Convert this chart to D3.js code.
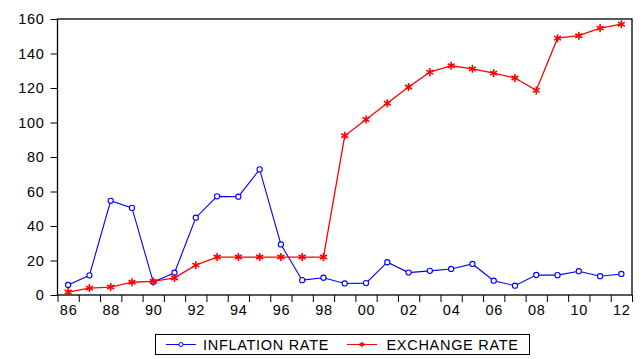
<!DOCTYPE html>
<html>
<head>
<meta charset="utf-8">
<script src="https://cdn.jsdelivr.net/npm/d3@7"></script>
<style>
  body { margin: 0; background: #fff; }
  text { font-family: "Liberation Sans", Arial, sans-serif; }
</style>
</head>
<body>
<div id="chart"></div>
<script>
var years = d3.range(1986, 2013);
var inflation = [5.8, 11.4, 54.6, 50.5, 7.5, 12.9, 44.8, 57.2, 57.0, 72.8, 29.3, 8.6, 10.0, 6.7, 6.9, 19.0, 13.0, 14.0, 15.1, 18.0, 8.3, 5.4, 11.6, 11.5, 13.8, 10.9, 12.2];
var exchange = [1.7, 4.0, 4.6, 7.4, 7.9, 9.9, 17.3, 22.0, 22.0, 22.0, 22.0, 22.0, 22.0, 92.3, 101.7, 111.2, 120.6, 129.2, 132.9, 131.1, 128.6, 125.8, 118.6, 148.9, 150.3, 154.7, 157.0];
var yTicks = [0, 20, 40, 60, 80, 100, 120, 140, 160];
var seriesNames = ["INFLATION RATE", "EXCHANGE RATE"];

var size = {width: 644, height: 359, left: 57.5, right: 632, top: 19, bottom: 295};
var fontSize = "14.5px", spacing = "0.7px";

var svg = d3.select("#chart").append("svg")
    .attr("width", size.width)
    .attr("height", size.height);

var x = d3.scaleLinear()
    .domain([years[0] - 0.5, years[years.length - 1] + 0.5])
    .range([size.left, size.right]);

var y = d3.scaleLinear()
    .domain([0, 160])
    .range([size.bottom, size.top]);

// tick marks at year boundaries
svg.append("g")
    .attr("transform", "translate(0," + size.bottom + ")")
    .call(d3.axisBottom(x)
      .tickValues(d3.range(years[0] - 0.5, years[years.length - 1] + 1))
      .tickSize(7)
      .tickFormat(""))
    .call(function(g) { g.select(".domain").remove(); })
    .selectAll("line").attr("stroke", "#000");

// labels every second year, centred in the band
svg.append("g")
    .attr("transform", "translate(0," + size.bottom + ")")
    .call(d3.axisBottom(x)
      .tickValues(years.filter(function(d) { return d % 2 == 0; }))
      .tickSize(0)
      .tickPadding(10)
      .tickFormat(function(d) { return d3.format("02d")(d % 100); }))
    .call(function(g) { g.select(".domain").remove(); })
    .selectAll("text")
      .attr("fill", "#000")
      .style("font-size", fontSize)
      .style("letter-spacing", spacing);

svg.append("g")
    .attr("transform", "translate(" + size.left + ",0)")
    .call(d3.axisLeft(y).tickValues(yTicks).tickSize(7).tickPadding(6))
    .call(function(g) { g.select(".domain").remove(); })
    .call(function(g) { g.selectAll("line").attr("stroke", "#000"); })
    .selectAll("text")
      .attr("fill", "#000")
      .style("font-size", fontSize)
      .style("letter-spacing", spacing);

svg.append("rect")
    .attr("x", size.left)
    .attr("y", size.top)
    .attr("width", size.right - size.left)
    .attr("height", size.bottom - size.top)
    .attr("fill", "none")
    .attr("stroke", "#000")
    .attr("stroke-width", 1.3);

var line = d3.line()
    .x(function(d, i) { return x(years[i]); })
    .y(function(d) { return y(d); });

svg.append("path")
    .datum(inflation)
    .attr("d", line)
    .attr("fill", "none")
    .attr("stroke", "#0000ff")
    .attr("stroke-width", 1.1);

svg.append("path")
    .datum(exchange)
    .attr("d", line)
    .attr("fill", "none")
    .attr("stroke", "#ff0000")
    .attr("stroke-width", 1.3);

svg.selectAll(".infl")
    .data(inflation)
    .enter().append("circle")
      .attr("class", "infl")
      .attr("cx", function(d, i) { return x(years[i]); })
      .attr("cy", function(d) { return y(d); })
      .attr("r", 2.6)
      .attr("fill", "#fff")
      .attr("stroke", "#0000ff")
      .attr("stroke-width", 1.1);

var star = d3.symbol().type(d3.symbolAsterisk).size(45);

svg.selectAll(".exch")
    .data(exchange)
    .enter().append("path")
      .attr("class", "exch")
      .attr("transform", function(d, i) { return "translate(" + x(years[i]) + "," + y(d) + ")"; })
      .attr("d", star)
      .attr("fill", "none")
      .attr("stroke", "#ff0000")
      .attr("stroke-width", 1.6);

// legend
var legend = svg.append("g");
legend.append("rect")
    .attr("x", 155.5).attr("y", 334.5)
    .attr("width", 374).attr("height", 20)
    .attr("fill", "#fff").attr("stroke", "#000");

var items = [
  {name: seriesNames[0], color: "#0000ff", x0: 166, tx: 203},
  {name: seriesNames[1], color: "#ff0000", x0: 347, tx: 386.5}
];

items.forEach(function(it, i) {
  legend.append("line")
      .attr("x1", it.x0).attr("x2", it.x0 + 30)
      .attr("y1", 344.5).attr("y2", 344.5)
      .attr("stroke", it.color);
  if (i == 0) {
    legend.append("circle")
        .attr("cx", it.x0 + 15).attr("cy", 344.5).attr("r", 2)
        .attr("fill", "#fff").attr("stroke", it.color);
  } else {
    legend.append("path")
        .attr("transform", "translate(" + (it.x0 + 15) + ",344.5)")
        .attr("d", d3.symbol().type(d3.symbolAsterisk).size(20))
        .attr("stroke", it.color).attr("stroke-width", 1.2);
  }
  legend.append("text")
      .attr("x", it.tx).attr("y", 344.5)
      .attr("dy", "0.36em")
      .style("font-size", fontSize)
      .style("letter-spacing", spacing)
      .attr("fill", "#000")
      .text(it.name);
});
</script>
</body>
</html>
